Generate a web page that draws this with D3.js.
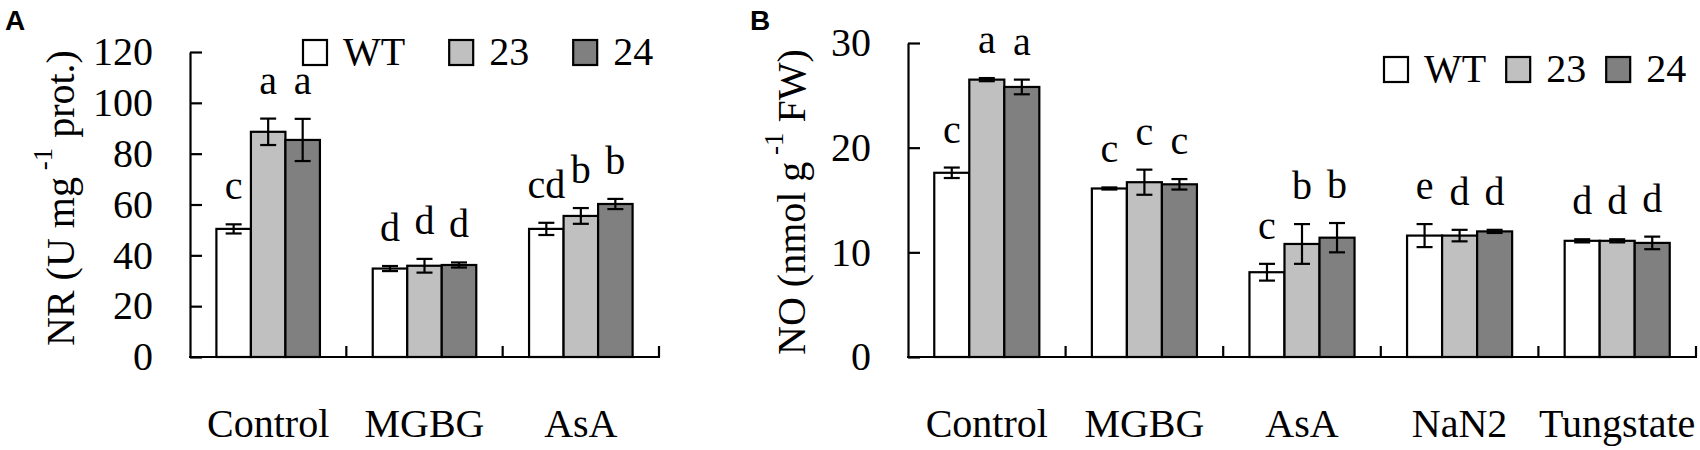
<!DOCTYPE html>
<html><head><meta charset="utf-8">
<script src="https://cdn.jsdelivr.net/npm/d3@7/dist/d3.min.js"></script>
<style>
html,body{margin:0;padding:0;background:#fff;}
text{fill:#000;}
</style></head>
<body><svg id="chart" width="1700" height="450"></svg>
<script>
// ---------- DATA ----------
const seriesNames = ["WT", "23", "24"];
const seriesColors = ["#ffffff", "#c0c0c0", "#808080"];

// Panel A: NR activity
const categoriesA = ["Control", "MGBG", "AsA"];
const nrWT = [50.4, 34.8, 50.4];
const nr23 = [88.6, 35.9, 55.5];
const nr24 = [85.4, 36.2, 60.2];
const nrWTErr = [1.8, 1.0, 2.4];
const nr23Err = [5.2, 2.7, 3.1];
const nr24Err = [8.3, 1.0, 2.0];
const nrWTLet = ["c", "d", "cd"];
const nr23Let = ["a", "d", "b"];
const nr24Let = ["a", "d", "b"];
const ticksA = [0, 20, 40, 60, 80, 100, 120];

// Panel B: NO content
const categoriesB = ["Control", "MGBG", "AsA", "NaN2", "Tungstate"];
const noWT = [17.6, 16.1, 8.1, 11.6, 11.1];
const no23 = [26.5, 16.7, 10.8, 11.6, 11.1];
const no24 = [25.8, 16.5, 11.4, 12.0, 10.9];
const noWTErr = [0.5, 0.1, 0.8, 1.1, 0.15];
const no23Err = [0.15, 1.2, 1.9, 0.55, 0.15];
const no24Err = [0.7, 0.5, 1.4, 0.15, 0.6];
const noWTLet = ["c", "c", "c", "e", "d"];
const no23Let = ["a", "c", "b", "d", "d"];
const no24Let = ["a", "c", "b", "d", "d"];
const ticksB = [0, 10, 20, 30];

// ---------- DRAW ----------
const svg = d3.select("#chart");
const FS = 40;
const SERIF = '"Liberation Serif","Times New Roman",serif';
const SANS = '"Liberation Sans",Arial,sans-serif';

function panel(cfg) {
  const g = svg.append("g").style("font-family", SERIF);
  const x = d3.scaleBand().domain(cfg.categories).range([cfg.x0, cfg.x1]).padding(0);
  const xs = d3.scaleBand().domain(seriesNames).range([0, x.bandwidth()])
    .paddingInner(0).paddingOuter(cfg.outer);
  const y = d3.scaleLinear().domain([0, cfg.ymax]).range([cfg.yb, cfg.yt]);

  const rows = [];
  cfg.categories.forEach((c, i) => {
    seriesNames.forEach((s, j) => {
      rows.push({c, s, j, v: cfg.vals[j][i], e: cfg.errs[j][i], l: cfg.lets[j][i]});
    });
  });
  const cx = d => x(d.c) + xs(d.s) + xs.bandwidth() / 2;

  // bars
  g.selectAll("rect.bar").data(rows).enter().append("rect")
    .attr("x", d => x(d.c) + xs(d.s))
    .attr("y", d => y(d.v))
    .attr("width", xs.bandwidth())
    .attr("height", d => y(0) - y(d.v))
    .attr("fill", d => seriesColors[d.j])
    .attr("stroke", "#000").attr("stroke-width", 2.2);

  // error bars
  const cap = 8;
  const eb = g.selectAll("g.err").data(rows).enter().append("g")
    .attr("stroke", "#000").attr("stroke-width", 2.2);
  eb.append("line").attr("x1", cx).attr("x2", cx)
    .attr("y1", d => y(d.v + d.e)).attr("y2", d => y(d.v - d.e));
  eb.append("line").attr("x1", d => cx(d) - cap).attr("x2", d => cx(d) + cap)
    .attr("y1", d => y(d.v + d.e)).attr("y2", d => y(d.v + d.e));
  eb.append("line").attr("x1", d => cx(d) - cap).attr("x2", d => cx(d) + cap)
    .attr("y1", d => y(d.v - d.e)).attr("y2", d => y(d.v - d.e));

  // significance letters
  g.selectAll("text.let").data(rows).enter().append("text")
    .attr("x", cx)
    .attr("y", d => y(d.v + d.e) - 25)
    .attr("text-anchor", "middle").attr("font-size", FS)
    .text(d => d.l);

  // y axis
  const ya = d3.axisLeft(y).tickValues(cfg.ticks).tickSize(-12).tickSizeOuter(0).tickPadding(37);
  const yg = g.append("g").attr("transform", `translate(${cfg.x0},0)`).call(ya);
  yg.attr("font-family", null).attr("font-size", null);
  yg.selectAll("path,line").attr("stroke", "#000").attr("stroke-width", 2.2);
  yg.selectAll("text").attr("font-size", FS).attr("fill", "#000");

  // x axis
  g.append("line").attr("x1", cfg.x0 - 1).attr("x2", cfg.x1 + 1)
    .attr("y1", y(0)).attr("y2", y(0)).attr("stroke", "#000").attr("stroke-width", 2.2);
  g.selectAll("line.xt").data(cfg.categories).enter().append("line")
    .attr("x1", d => x(d) + x.bandwidth()).attr("x2", d => x(d) + x.bandwidth())
    .attr("y1", y(0)).attr("y2", y(0) - 11)
    .attr("stroke", "#000").attr("stroke-width", 2.2);
  g.selectAll("text.xl").data(cfg.categories).enter().append("text")
    .attr("x", d => x(d) + x.bandwidth() / 2).attr("y", 437)
    .attr("text-anchor", "middle").attr("font-size", FS).text(d => d);

  // y title
  const t = g.append("text")
    .attr("transform", `translate(${cfg.titleX},${cfg.titleY}) rotate(-90)`)
    .attr("text-anchor", "middle").attr("font-size", FS);
  t.append("tspan").text(cfg.title[0]);
  t.append("tspan").attr("font-size", 27).attr("dy", -22).text(" -1");
  t.append("tspan").attr("dy", 22).text(" " + cfg.title[1]);

  // legend
  let lx = cfg.legX;
  seriesNames.forEach((s, j) => {
    g.append("rect").attr("x", lx).attr("y", cfg.legY - 25).attr("width", 24).attr("height", 25)
      .attr("fill", seriesColors[j]).attr("stroke", "#000").attr("stroke-width", 2.2);
    const tx = g.append("text").attr("x", lx + 40).attr("y", cfg.legY).attr("font-size", FS).text(s);
    lx = lx + 40 + tx.node().getComputedTextLength() + cfg.legGap;
  });

  // panel letter
  svg.append("text").attr("x", cfg.labX).attr("y", 30)
    .style("font-family", SANS).style("font-weight", "bold")
    .attr("font-size", 28).text(cfg.label);
}

panel({
  categories: categoriesA, vals: [nrWT, nr23, nr24], errs: [nrWTErr, nr23Err, nr24Err],
  lets: [nrWTLet, nr23Let, nr24Let], ticks: ticksA, ymax: 120,
  x0: 190, x1: 659, yb: 357, yt: 52, outer: 0.765,
  title: ["NR (U mg", "prot.)"], titleX: 74, titleY: 198,
  legX: 303, legY: 65, legGap: 44, label: "A", labX: 5
});
panel({
  categories: categoriesB, vals: [noWT, no23, no24], errs: [noWTErr, no23Err, no24Err],
  lets: [noWTLet, no23Let, no24Let], ticks: ticksB, ymax: 30,
  x0: 908, x1: 1696, yb: 357, yt: 43, outer: 0.75,
  title: ["NO (nmol g", "FW)"], titleX: 805, titleY: 202,
  legX: 1384, legY: 82, legGap: 20, label: "B", labX: 750
});
</script></body></html>
